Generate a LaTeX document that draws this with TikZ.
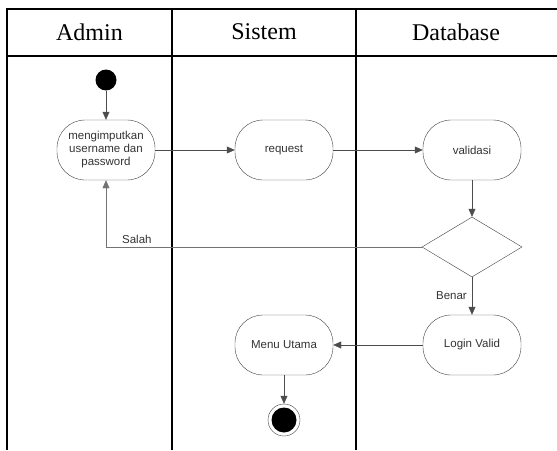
\documentclass[tikz,border=0pt]{standalone}
\usepackage{fontspec}
\setmainfont{Liberation Serif}
\setsansfont{Liberation Sans}
\usetikzlibrary{shapes.geometric,arrows.meta}

\begin{document}
\begin{tikzpicture}[x=1pt, y=-1pt, every node/.style={font=\sffamily\fontsize{11.5}{13}\selectfont, text=black!80},
	lane/.style={line width=1.8pt},
	head/.style={font=\rmfamily\fontsize{24}{28}\selectfont, text=black},
	act/.style={draw=black!75, rounded corners=28pt, minimum width=98pt, minimum height=60pt, align=center, inner sep=2pt},
	flow/.style={draw=black!70, -{Triangle[length=8pt, width=7pt]}}]
	\useasboundingbox (0,0) rectangle (557,450);
	% swimlanes
	\draw[lane] (557,9) -- (7,9) -- (7,450);
	\draw[lane] (7,56) -- (557,56);
	\draw[lane] (172,9) -- (172,450);
	\draw[lane] (356,9) -- (356,450);
	\node[head] (hAdmin) at (89.5,32) {Admin};
	\node[head] (hSistem) at (264,32) {Sistem};
	\node[head] (hDatabase) at (456,32) {Database};
	% activities
	\node[circle, fill=black, minimum size=21pt, inner sep=0pt] (start) at (106,80) {};
	\node[act] (input) at (106,150) {mengimputkan\\username dan\\password};
	\node[act] (request) at (284,150) {request};
	\node[act] (validasi) at (472,150) {validasi};
	\node[diamond, draw=black!75, minimum width=100pt, minimum height=60pt, inner sep=0pt] (cek) at (472,247) {};
	\node[act] (login) at (472,345) {Login Valid};
	\node[act] (menu) at (284,345) {Menu Utama};
	\node[circle, draw=black!75, minimum size=32pt, inner sep=0pt] (stop) at (284,420) {};
	\node[circle, fill=black, minimum size=25pt, inner sep=0pt] (stopdot) at (stop) {};
	% transitions
	\draw[flow] (start) -- (input);
	\draw[flow] (input) -- (request);
	\draw[flow] (request) -- (validasi);
	\draw[flow] (validasi) -- (cek);
	\draw[flow, draw=black!55] (cek.west) -| node[pos=0.48, above right] {Salah} (input.south);
	\draw[flow] (cek.south) -- node[left, inner sep=5pt] {Benar} (login.north);
	\draw[flow] (login) -- (menu);
	\draw[flow] (menu) -- (stop);
\end{tikzpicture}
\end{document}
